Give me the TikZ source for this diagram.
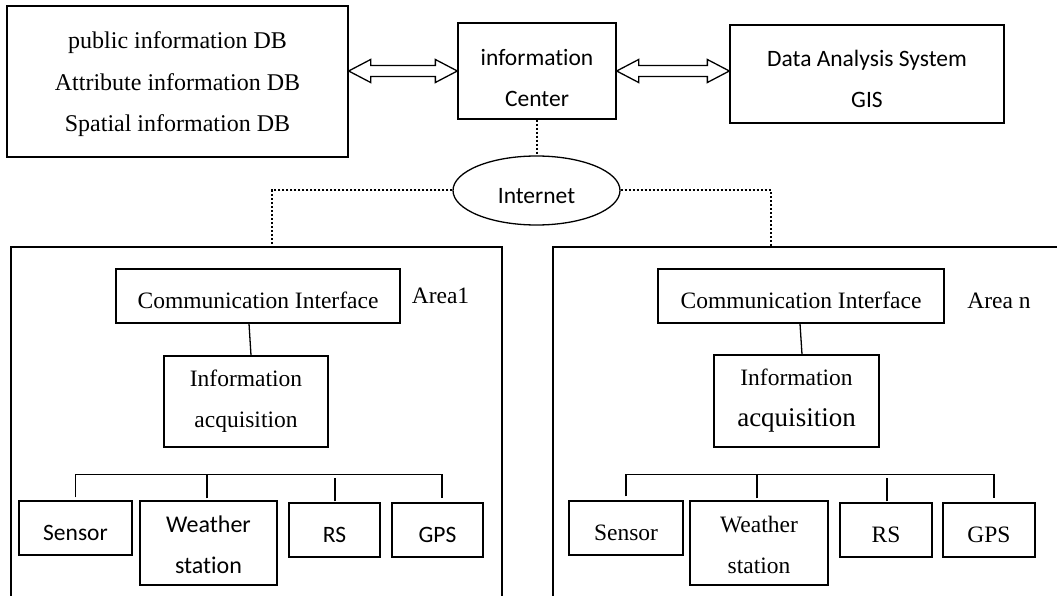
\documentclass[tikz,border=0pt]{standalone}
\usepackage{fontspec}
\setmainfont{Liberation Serif}
\newfontfamily\calfont[Ligatures=NoCommon]{Carlito}
\usetikzlibrary{shapes.geometric,calc}
\tikzset{
  box/.style={draw, line width=1.3pt, rectangle, inner sep=0pt, align=center},
  serif/.style={font=\fontsize{23.5}{41}\selectfont},
  sans/.style={font=\calfont\fontsize{23.5}{41}\selectfont},
  low/.style={text height=25.4pt, text depth=0pt},
  conn/.style={line width=1.3pt},
  dots/.style={line width=2pt, dash pattern=on 2pt off 2pt},
  blockarrow/.style={draw, line width=1.3pt, line join=miter},
}
\begin{document}
\begin{tikzpicture}[x=1pt,y=-1pt]
\useasboundingbox (0,0) rectangle (1057,596);
% top row
\node[box, font=\fontsize{24}{41.5}\selectfont, minimum width=341, minimum height=151] (db) at (177.5,81.5)
  {\rule{0pt}{23pt}public information DB\\Attribute information DB\\Spatial information DB};
\node[box, sans, minimum width=158, minimum height=96] (ic) at (537,71) {\rule{0pt}{30pt}information\\Center};
\node[box, sans, minimum width=274, minimum height=98] (da) at (867,74) {\rule{0pt}{26.5pt}Data Analysis System\\GIS};
\node[draw, line width=1.3pt, ellipse, sans, inner sep=0pt, text height=27pt, text depth=0pt,
  minimum width=167, minimum height=69] (inet) at (536.5,190.5) {Internet};
% block arrows
\draw[blockarrow] (db.east |- ic.west) -- ++(22,-11.5) -- ++(0,6) -- ($(ic.west)+(-22,-5.5)$) -- ++(0,-6)
  -- (ic.west) -- ++(-22,11.5) -- ++(0,-6) -- ($(db.east |- ic.west)+(22,5.5)$) -- ++(0,6) -- cycle;
\draw[blockarrow] (ic.east) -- ++(22,-11.5) -- ++(0,6) -- ($(da.west |- ic.east)+(-22,-5.5)$) -- ++(0,-6)
  -- (da.west |- ic.east) -- ++(-22,11.5) -- ++(0,-6) -- ($(ic.east)+(22,5.5)$) -- ++(0,6) -- cycle;
% area containers
\node[box, minimum width=491, minimum height=393] (a1) at (256.5,443.5) {};
\node[box, minimum width=547, minimum height=393] (a2) at (826.5,443.5) {};
% dotted links
\draw[dots] (inet.north |- ic.south) -- (inet.north);
\draw[dots] (inet.west) -| ($(a1.north)+(15.5,0)$);
\draw[dots] (inet.east) -| ($(a2.north)+(-55.5,0)$);
% Area 1
\node[box, serif, low, minimum width=284, minimum height=54] (ci1) at (258,296) {Communication Interface};
\node[serif, inner sep=0pt] (ar1) at (440.5,296) {Area1};
\node[box, serif, minimum width=164, minimum height=91] (ia1) at (246,401.5) {Information\\acquisition};
\node[box, sans, low, minimum width=113, minimum height=54] (se1) at (75.5,528) {Sensor};
\node[box, sans, font=\calfont\fontsize{24}{41}\selectfont, minimum width=137, minimum height=84] (ws1) at (208.5,543) {\rule{0pt}{21pt}Weather\\station};
\node[box, sans, low, minimum width=91, minimum height=54] (rs1) at (334.5,530) {RS};
\node[box, sans, low, minimum width=91, minimum height=54] (gp1) at (437.5,530) {GPS};
\draw[conn] ($(ci1.south)+(-9,0)$) -- ($(ia1.north)+(5,0)$);
\draw[conn] ($(se1.north)+(0,-3)$) -- ($(se1.north)+(0,-26)$) -- ($(gp1.north)+(4.5,-28)$) -- ($(gp1.north)+(4.5,-4)$);
\draw[conn] ($(ws1.north)+(-1.5,-2)$) -- ($(ws1.north)+(-1.5,-26)$);
\draw[conn] ($(rs1.north)+(0.5,-1)$) -- ($(rs1.north)+(0.5,-24)$);
% Area n
\node[box, serif, low, minimum width=286, minimum height=54] (ci2) at (801,296) {Communication Interface};
\node[serif, inner sep=0pt] (arn) at (999,301) {Area n};
\node[box, serif, minimum width=165, minimum height=92] (ia2) at (796.5,401) {Information\\{\fontsize{27}{43}\selectfont acquisition}};
\node[box, serif, low, minimum width=114, minimum height=54] (se2) at (626,528) {Sensor};
\node[box, serif, minimum width=138, minimum height=84] (ws2) at (759,543) {\rule{0pt}{20pt}Weather\\station};
\node[box, serif, low, minimum width=92, minimum height=54] (rs2) at (886,530) {RS};
\node[box, serif, low, minimum width=92, minimum height=54] (gp2) at (989,530) {GPS};
\draw[conn] ($(ci2.south)+(-1,0)$) -- ($(ia2.north)+(5.5,0)$);
\draw[conn] ($(se2.north)+(0,-4)$) -- ($(se2.north)+(0,-26)$) -- ($(gp2.north)+(5,-28)$) -- ($(gp2.north)+(5,-4)$);
\draw[conn] ($(ws2.north)+(-2,-2)$) -- ($(ws2.north)+(-2,-26)$);
\draw[conn] ($(rs2.north)+(1,-1)$) -- ($(rs2.north)+(1,-24)$);
\end{tikzpicture}
\end{document}
